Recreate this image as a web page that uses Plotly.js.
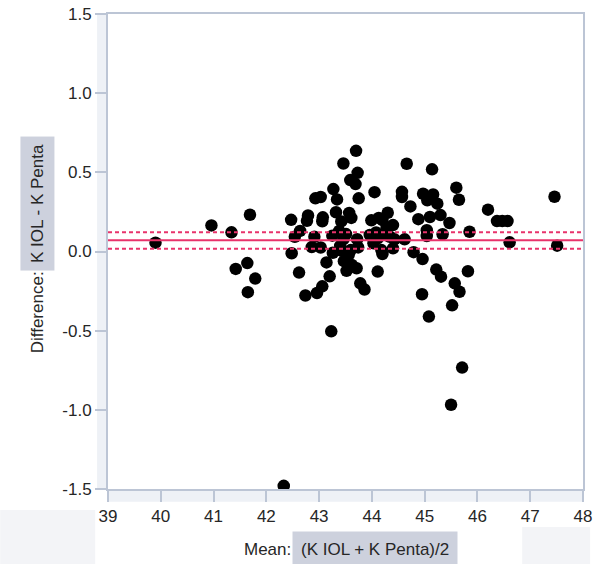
<!DOCTYPE html>
<html>
<head>
<meta charset="utf-8">
<script src="https://cdn.plot.ly/plotly-3.0.1.min.js"></script>
<style>html,body{margin:0;padding:0;background:#fff;}#chart{width:597px;height:564px;}</style>
</head>
<body>
<div id="chart"></div>
<script>
// Bland-Altman data: mean of the two measurements (x) and their difference (y)
const meanVals = [
  39.90, 40.96, 41.34, 41.69, 41.42, 41.64, 41.79, 41.65, 42.33,
  42.47, 42.64, 42.54, 42.48, 42.62, 42.74, 42.79, 42.77, 42.93, 43.03,
  42.91, 42.86, 43.03, 43.07, 43.06, 42.96, 43.06, 43.14, 43.20, 43.23,
  43.27, 43.34, 43.32, 43.46, 43.70, 43.73, 43.59, 43.69, 43.75, 43.57,
  43.61, 43.42, 43.25, 43.38, 43.51, 43.46, 43.72, 43.40, 43.43, 43.60,
  43.74, 43.26, 43.56, 43.47, 43.62, 43.71, 43.52, 43.78, 43.86,
  44.05, 43.99, 44.13, 44.30, 44.20, 44.40, 44.28, 43.96, 44.08, 44.18,
  44.11, 44.34, 44.43, 44.62, 44.03, 44.18, 44.40, 44.20, 44.11,
  44.66, 44.57, 44.57, 44.73, 44.88, 44.79, 44.96, 44.95, 44.97,
  45.14, 45.16, 45.05, 45.24, 45.10, 45.30, 45.47, 45.04, 45.04, 45.34,
  45.85, 45.60, 45.65, 45.22, 45.31, 45.82, 45.57, 45.66, 45.52, 45.08,
  45.71, 45.50,
  46.20, 46.37, 46.47, 46.57, 46.61, 47.46, 47.51
];
const diffVals = [
  0.056, 0.165, 0.121, 0.232, -0.110, -0.073, -0.171, -0.257, -1.480,
  0.200, 0.130, 0.093, -0.011, -0.133, -0.278, 0.228, 0.194, 0.336, 0.344,
  0.093, 0.028, 0.025, 0.216, 0.191, -0.262, -0.220, -0.069, -0.157, -0.504,
  0.394, 0.329, 0.248, 0.556, 0.636, 0.497, 0.451, 0.426, 0.336, 0.243,
  0.212, 0.190, 0.100, 0.130, 0.110, 0.078, 0.078, 0.035, 0.004, 0.009,
  0.026, -0.008, -0.022, -0.061, -0.085, -0.106, -0.122, -0.201, -0.240,
  0.375, 0.197, 0.212, 0.245, 0.199, 0.167, 0.153, 0.104, 0.120, 0.104,
  0.083, 0.093, 0.077, 0.077, 0.052, 0.009, 0.020, -0.016, -0.127,
  0.554, 0.377, 0.344, 0.285, 0.204, -0.004, -0.048, -0.270, 0.365,
  0.519, 0.360, 0.323, 0.302, 0.218, 0.230, 0.180, 0.134, 0.098, 0.109,
  0.125, 0.403, 0.327, -0.114, -0.159, -0.125, -0.201, -0.254, -0.340, -0.411,
  -0.733, -0.968,
  0.264, 0.192, 0.192, 0.192, 0.058, 0.346, 0.037
];
// Mean difference and its 95% confidence limits
const meanDiff = 0.071;
const ciLower = 0.018;
const ciUpper = 0.121;
const xRange = [39, 48];
const yRange = [-1.5, 1.5];
const xTicks = [39, 40, 41, 42, 43, 44, 45, 46, 47, 48];
const yTicks = [-1.5, -1.0, -0.5, 0.0, 0.5, 1.0, 1.5];
const yTickText = ['-1.5', '-1.0', '-0.5', '0.0', '0.5', '1.0', '1.5'];

const red = '#e8336b';
const axisCol = '#bcc5d5';
const fam = '"Liberation Sans", Arial, Helvetica, sans-serif';
const labelFont = {family: fam, size: 17, color: '#262626'};
const titleFont = {family: fam, size: 17, color: '#262626'};

const traces = [
  {x: meanVals, y: diffVals, type: 'scatter', mode: 'markers',
   marker: {size: 12.5, color: '#000000'}, hoverinfo: 'x+y', showlegend: false},
  {x: xRange, y: [meanDiff, meanDiff], type: 'scatter', mode: 'lines',
   line: {color: red, width: 2}, showlegend: false},
  {x: xRange, y: [ciUpper, ciUpper], type: 'scatter', mode: 'lines',
   line: {color: red, width: 2, dash: '4px,3px'}, showlegend: false},
  {x: xRange, y: [ciLower, ciLower], type: 'scatter', mode: 'lines',
   line: {color: red, width: 2, dash: '4px,3px'}, showlegend: false}
];

const layout = {
  width: 597, height: 564,
  margin: {l: 108, r: 14, t: 14, b: 75},
  paper_bgcolor: '#ffffff', plot_bgcolor: '#ffffff',
  showlegend: false,
  xaxis: {range: xRange, tickvals: xTicks, ticktext: xTicks.map(String),
    showgrid: false, zeroline: false, showline: true, linecolor: axisCol, linewidth: 2,
    mirror: true, ticks: 'outside', ticklen: 11, tickwidth: 2, tickcolor: axisCol,
    tickfont: labelFont, fixedrange: true},
  yaxis: {range: yRange, tickvals: yTicks, ticktext: yTickText,
    showgrid: false, zeroline: false, showline: true, linecolor: axisCol, linewidth: 2,
    mirror: true, ticks: 'outside', ticklen: 11, tickwidth: 2, tickcolor: axisCol,
    tickfont: labelFont, fixedrange: true},
  shapes: [
    {type: 'rect', xref: 'paper', yref: 'paper', x0: -0.023, x1: 0, y0: 0, y1: 1,
     fillcolor: '#eef1f6', line: {width: 0}, layer: 'below'},
    {type: 'rect', xref: 'paper', yref: 'paper', x0: 0, x1: 1, y0: -0.027, y1: 0,
     fillcolor: '#eef1f6', line: {width: 0}, layer: 'below'},
    {type: 'rect', xref: 'paper', yref: 'paper', x0: -0.227, x1: -0.027, y0: -0.16, y1: -0.044,
     fillcolor: '#f3f4f7', line: {width: 0}, layer: 'below'},
    {type: 'rect', xref: 'paper', yref: 'paper', x0: 0.872, x1: 1.015, y0: -0.16, y1: -0.08,
     fillcolor: '#f3f4f7', line: {width: 0}, layer: 'below'}
  ],
  annotations: [
    {text: 'K IOL - K Penta', xref: 'paper', yref: 'paper', x: -0.1495, y: 0.602,
     xanchor: 'center', yanchor: 'middle', textangle: -90, showarrow: false,
     bgcolor: '#cdd1dd', borderpad: 7, font: titleFont},
    {text: 'Difference:', xref: 'paper', yref: 'paper', x: -0.1495, y: 0.372,
     xanchor: 'center', yanchor: 'middle', textangle: -90, showarrow: false,
     font: titleFont},
    {text: 'Mean:', xref: 'paper', yref: 'paper', x: 0.336, y: -0.128,
     xanchor: 'center', yanchor: 'middle', showarrow: false, font: titleFont},
    {text: '(K IOL + K Penta)/2', xref: 'paper', yref: 'paper', x: 0.562, y: -0.128,
     xanchor: 'center', yanchor: 'middle', showarrow: false,
     bgcolor: '#cdd1dd', borderpad: 8, font: titleFont}
  ]
};

Plotly.newPlot('chart', traces, layout, {staticPlot: true, displayModeBar: false});
</script>
</body>
</html>
